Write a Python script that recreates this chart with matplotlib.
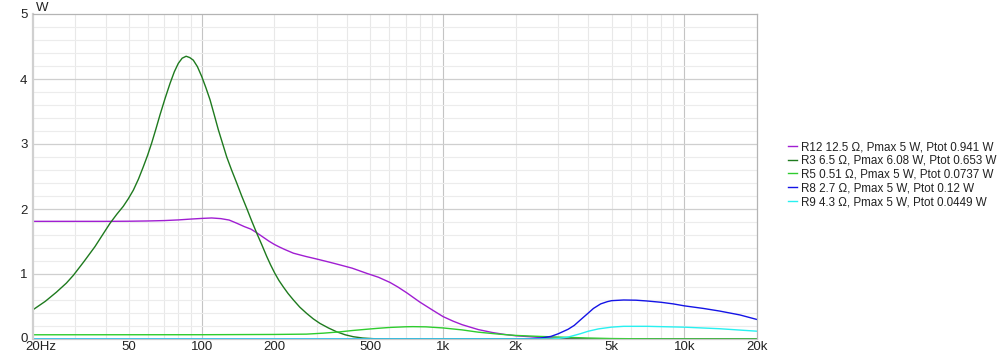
import numpy as np
import matplotlib
matplotlib.use("Agg")
import matplotlib.pyplot as plt
from matplotlib.ticker import FixedLocator, NullFormatter
from matplotlib.transforms import ScaledTranslation

plt.rcParams['font.family'] = ['Liberation Sans', 'DejaVu Sans']

# ---- data ----
r12_f = [20, 30, 40, 50, 60, 70, 80, 90, 100, 110, 120, 130, 140, 150, 160, 169, 180, 190, 200,
         210, 220, 240, 270, 300, 340, 374, 420, 483, 540, 603, 650, 708, 800, 900, 1000, 1100,
         1200, 1400, 1600, 1800, 2000, 2500, 3000, 4000, 5000, 20000]
r12_p = [1.81, 1.81, 1.81, 1.812, 1.816, 1.822, 1.832, 1.845, 1.855, 1.862, 1.852, 1.83, 1.78,
         1.73, 1.69, 1.635, 1.565, 1.505, 1.455, 1.415, 1.38, 1.32, 1.27, 1.23, 1.18, 1.14, 1.09,
         1.01, 0.95, 0.87, 0.80, 0.71, 0.57, 0.45, 0.345, 0.275, 0.22, 0.145, 0.10, 0.07, 0.05,
         0.025, 0.012, 0.004, 0.0, 0.0]

r3_f = [20, 22.5, 25, 27.5, 29.4, 32.5, 36.1, 38.8, 41.7, 44.5, 47.3, 49.7, 52.1, 54.7, 57.3,
        59.6, 62.0, 64.6, 67.2, 70.5, 73.9, 77.0, 80.0, 83.0, 86.2, 89.2, 92.3, 96.0, 100, 104,
        108.3, 112.7, 117.2, 122, 127, 133, 139.7, 146.5, 153.7, 161, 169, 177, 186, 193, 201,
        209, 218, 228, 240, 255, 272, 290, 309, 335, 363, 393, 425, 465, 514, 600, 20000]
r3_p = [0.45, 0.58, 0.72, 0.86, 0.98, 1.19, 1.42, 1.60, 1.78, 1.92, 2.04, 2.16, 2.29, 2.46, 2.65,
        2.82, 3.01, 3.23, 3.45, 3.70, 3.93, 4.11, 4.24, 4.32, 4.35, 4.33, 4.29, 4.19, 4.04, 3.87,
        3.68, 3.45, 3.22, 3.01, 2.80, 2.60, 2.40, 2.20, 2.01, 1.82, 1.63, 1.46, 1.27, 1.14, 1.01,
        0.90, 0.80, 0.70, 0.60, 0.49, 0.395, 0.31, 0.24, 0.17, 0.11, 0.065, 0.035, 0.015, 0.005,
        0.0, 0.0]

r5_f = [20, 100, 200, 272, 320, 374, 420, 483, 540, 603, 700, 750, 850, 1000, 1200, 1400, 1700,
        2000, 2500, 3000, 4000, 5000, 7000, 10000, 20000]
r5_p = [0.065, 0.066, 0.07, 0.075, 0.09, 0.11, 0.13, 0.15, 0.165, 0.178, 0.188, 0.19, 0.187,
        0.17, 0.14, 0.105, 0.075, 0.055, 0.04, 0.03, 0.015, 0.007, 0.002, 0.0, 0.0]

r8_f = [20, 2000, 2200, 2500, 2800, 3000, 3300, 3500, 3700, 4000, 4200, 4500, 4800, 5000, 5600,
        6300, 7000, 8000, 9000, 10000, 12000, 14000, 17000, 20000]
r8_p = [0.0, 0.0, 0.002, 0.01, 0.04, 0.08, 0.15, 0.21, 0.29, 0.40, 0.47, 0.54, 0.575, 0.59, 0.60,
        0.597, 0.585, 0.565, 0.54, 0.51, 0.47, 0.43, 0.37, 0.30]

r9_f = [20, 2800, 3000, 3300, 3700, 4000, 4400, 5000, 5600, 7000, 10000, 14000, 20000]
r9_p = [0.0, 0.0, 0.008, 0.03, 0.08, 0.12, 0.155, 0.183, 0.195, 0.195, 0.182, 0.158, 0.12]

labels = ["R12 12.5 \u03a9, Pmax 5 W, Ptot 0.941 W",
          "R3 6.5 \u03a9, Pmax 6.08 W, Ptot 0.653 W",
          "R5 0.51 \u03a9, Pmax 5 W, Ptot 0.0737 W",
          "R8 2.7 \u03a9, Pmax 5 W, Ptot 0.12 W",
          "R9 4.3 \u03a9, Pmax 5 W, Ptot 0.0449 W"]
colors = ["#a01ed2", "#1e7a1e", "#2ecc2e", "#1414e6", "#28f0f0"]

x_ticks = [20, 50, 100, 200, 500, 1000, 2000, 5000, 10000, 20000]
x_ticklabels = ["20Hz", "50", "100", "200", "500", "1k", "2k", "5k", "10k", "20k"]
y_ticks = [0, 1, 2, 3, 4, 5]

# ---- figure ----
fig = plt.figure(figsize=(10, 3.53), dpi=100)
ax = fig.add_axes([33 / 1000, 1 - 339 / 353, (757 - 33) / 1000, (339 - 14) / 353])

series = [(r12_f, r12_p), (r3_f, r3_p), (r5_f, r5_p), (r8_f, r8_p), (r9_f, r9_p)]
for (f, p), c, lab in zip(series, colors, labels):
    ax.plot(f, p, color=c, lw=1.0, label=lab, solid_joinstyle='round')

ax.set_xscale('log')
ax.set_xlim(20, 20000)
ax.set_ylim(0, 5)

major_x = [100, 1000, 10000]
minor_x = [m * d for d in (10, 100, 1000) for m in range(2, 10) if 20 < m * d < 20000 and m * d not in major_x]
for v in minor_x:
    ax.axvline(v, color="#e8e8e8", lw=0.8, zorder=0)
for v in major_x:
    ax.axvline(v, color="#c4c4c4", lw=0.8, zorder=0)
for v in np.arange(0.2, 5.0, 0.2):
    if abs(v - round(v)) < 1e-6:
        ax.axhline(v, color="#cfcfcf", lw=0.9, zorder=0)
    else:
        ax.axhline(v, color="#ececec", lw=0.8, zorder=0)

ax.xaxis.set_major_locator(FixedLocator(x_ticks))
ax.xaxis.set_minor_locator(FixedLocator([]))
ax.xaxis.set_minor_formatter(NullFormatter())
ax.set_xticks(x_ticks)
ax.set_xticklabels(x_ticklabels)
ax.set_yticks(y_ticks)
ax.set_yticklabels([str(v) for v in y_ticks])
ax.tick_params(axis='both', length=0, labelsize=9.5, colors="#222222")
ax.tick_params(axis='x', pad=1.5)
ax.tick_params(axis='y', pad=4)
lbl0 = ax.get_xticklabels()[0]
lbl0.set_transform(lbl0.get_transform() + ScaledTranslation(8 / 100, 0, fig.dpi_scale_trans))
ylbl0 = ax.get_yticklabels()[0]
ylbl0.set_transform(ylbl0.get_transform() + ScaledTranslation(0, 2 / 100, fig.dpi_scale_trans))

for s in ("top", "right"):
    ax.spines[s].set_color("#b4b4b4")
    ax.spines[s].set_linewidth(0.9)
ax.spines["left"].set_color("#d0d0d0")
ax.spines["left"].set_linewidth(1.6)
ax.spines["bottom"].set_color("#c8c8c8")
ax.spines["bottom"].set_linewidth(0.9)

fig.text(36 / 1000, 1 - 8 / 353, "W", fontsize=9.5, color="#222222", ha='left', va='center')

fig.legend(loc='upper left', bbox_to_anchor=(788 / 1000, 1 - 141 / 353), frameon=False,
           fontsize=8.4, handlelength=0.75, handletextpad=0.4, labelspacing=0.15,
           borderpad=0, borderaxespad=0, labelcolor="#222222")

fig.savefig("out.png", dpi=100)
